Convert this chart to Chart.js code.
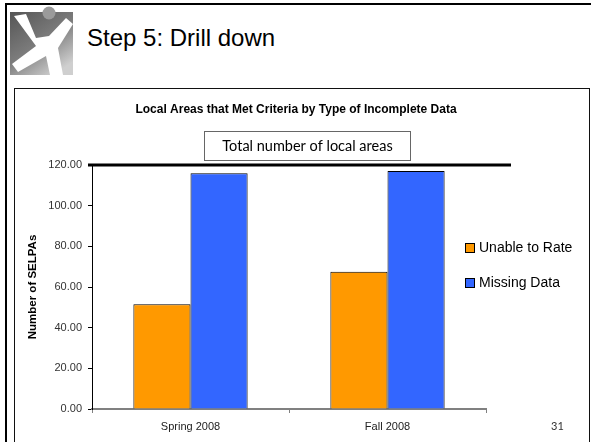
<!DOCTYPE html>
<html>
<head>
<meta charset="utf-8">
<script src="https://cdn.jsdelivr.net/npm/chart.js@4.4.1/dist/chart.umd.min.js"></script>
<style>
  html, body { margin: 0; padding: 0; background: #fff; overflow: hidden; }
  #slide { position: relative; width: 591px; height: 442px; overflow: hidden; background: #fff; }
  .abs { position: absolute; }
  #heading { left: 87px; top: 26px; font: 24px Arial, "Liberation Sans", sans-serif; line-height: 24px; color: #000; white-space: nowrap; }
  #pageNo { left: 551px; top: 419px; font: 11px Lato, sans-serif; line-height: 14px; color: #333; }
  #chart { position: absolute; left: 0; top: 0; display: block; }
</style>
</head>
<body>
<div id="slide">
  <div class="abs" style="left:5px;top:3px;width:586px;height:2px;background:#000"></div>
  <div class="abs" style="left:5px;top:3px;width:2px;height:439px;background:#000"></div>
  <div class="abs" style="left:14px;top:88px;width:576px;height:360px;border:1px solid #111;box-sizing:border-box"></div>
  <svg class="abs" style="left:9px;top:6px" width="70" height="72" viewBox="0 0 70 72">
    <defs>
      <linearGradient id="g" x1="0" y1="0" x2="0.7" y2="1">
        <stop offset="0" stop-color="#555"/>
        <stop offset="0.55" stop-color="#7c7c7c"/>
        <stop offset="1" stop-color="#cfcfcf"/>
      </linearGradient>
    </defs>
    <rect x="1" y="6" width="63" height="63" fill="url(#g)"/>
    <path d="M5 10 L17 8 L27 32 L40 30 L57 12 L64 18 L49 42 L54 69 L41 69 L37 50 L9 66 L3 58 L27 40 Z" fill="#fff"/>
    <circle cx="40" cy="7" r="6.5" fill="#9a9a9a"/>
  </svg>
  <div id="heading" class="abs">Step 5: Drill down</div>
  <canvas id="chart" width="591" height="442"></canvas>
  <div id="pageNo" class="abs">31</div>
</div>
<script>
const categories = ["Spring 2008", "Fall 2008"];
const unableToRate = [51.5, 67.5];
const missingData = [116, 117];
const yTicks = [0, 20, 40, 60, 80, 100, 120];
const totalLocalAreas = 120;

const ARIAL = 'Arial, "Liberation Sans", sans-serif';

const extrasPlugin = {
  id: 'extras',
  afterDraw(chart) {
    const ctx = chart.ctx;
    const y = chart.scales.y.getPixelForValue(totalLocalAreas);
    ctx.save();
    // chart title
    ctx.fillStyle = '#000';
    ctx.font = 'bold 12px ' + ARIAL;
    ctx.textAlign = 'center';
    ctx.textBaseline = 'middle';
    ctx.fillText('Local Areas that Met Criteria by Type of Incomplete Data', 296, 110);
    // total line
    ctx.strokeStyle = '#000';
    ctx.lineWidth = 3;
    ctx.beginPath();
    ctx.moveTo(88, y);
    ctx.lineTo(511, y);
    ctx.stroke();
    // label box
    ctx.fillStyle = '#fff';
    ctx.fillRect(204.5, y - 33.5, 206, 29);
    ctx.strokeStyle = '#666';
    ctx.lineWidth = 1;
    ctx.strokeRect(204.5, y - 33.5, 206, 29);
    ctx.fillStyle = '#000';
    ctx.font = '14.5px Lato, sans-serif';
    ctx.fillText('Total number of local areas', 307.5, y - 18.5);
    // legend
    ctx.textAlign = 'left';
    ctx.font = '14px ' + ARIAL;
    chart.data.datasets.forEach((ds, i) => {
      const cy = 248 + i * 35;
      ctx.fillStyle = ds.backgroundColor;
      ctx.fillRect(465, cy - 5, 9, 9);
      ctx.strokeStyle = '#000';
      ctx.strokeRect(465.5, cy - 4.5, 9, 9);
      ctx.fillStyle = '#000';
      ctx.fillText(ds.label, 479, cy);
    });
    ctx.restore();
  }
};

new Chart(document.getElementById('chart'), {
  type: 'bar',
  data: {
    labels: categories,
    datasets: [
      { label: 'Unable to Rate', data: unableToRate, backgroundColor: '#FF9900', borderColor: '#000', borderWidth: 1 },
      { label: 'Missing Data', data: missingData, backgroundColor: '#3366FF', borderColor: '#000', borderWidth: 1 }
    ]
  },
  options: {
    responsive: false,
    animation: false,
    categoryPercentage: 0.58,
    barPercentage: 1,
    layout: { padding: { left: 22, right: 105, top: 165, bottom: 3 } },
    plugins: {
      legend: { display: false },
      tooltip: { enabled: false },
      title: { display: false }
    },
    scales: {
      x: {
        afterFit(scale) { scale.height = 30; },
        grid: { drawOnChartArea: false, drawTicks: true, tickLength: 4, color: '#808080' },
        border: { color: '#808080', width: 2 },
        ticks: { color: '#222', padding: 7, font: { family: ARIAL, size: 11 } }
      },
      y: {
        min: 0,
        max: 120,
        afterFit(scale) { scale.width = 70; },
        afterBuildTicks(scale) { scale.ticks = yTicks.map(v => ({ value: v })); },
        grid: { drawOnChartArea: false, drawTicks: true, tickLength: 4, color: '#000' },
        border: { color: '#000', width: 1 },
        ticks: { color: '#333', padding: 6, font: { family: ARIAL, size: 11 }, callback: v => v.toFixed(2) },
        title: { display: true, text: 'Number of SELPAs', color: '#000', font: { family: ARIAL, size: 11.5, weight: 'bold' }, padding: { top: 4, bottom: 0 } }
      }
    }
  },
  plugins: [extrasPlugin]
});
</script>
</body>
</html>
